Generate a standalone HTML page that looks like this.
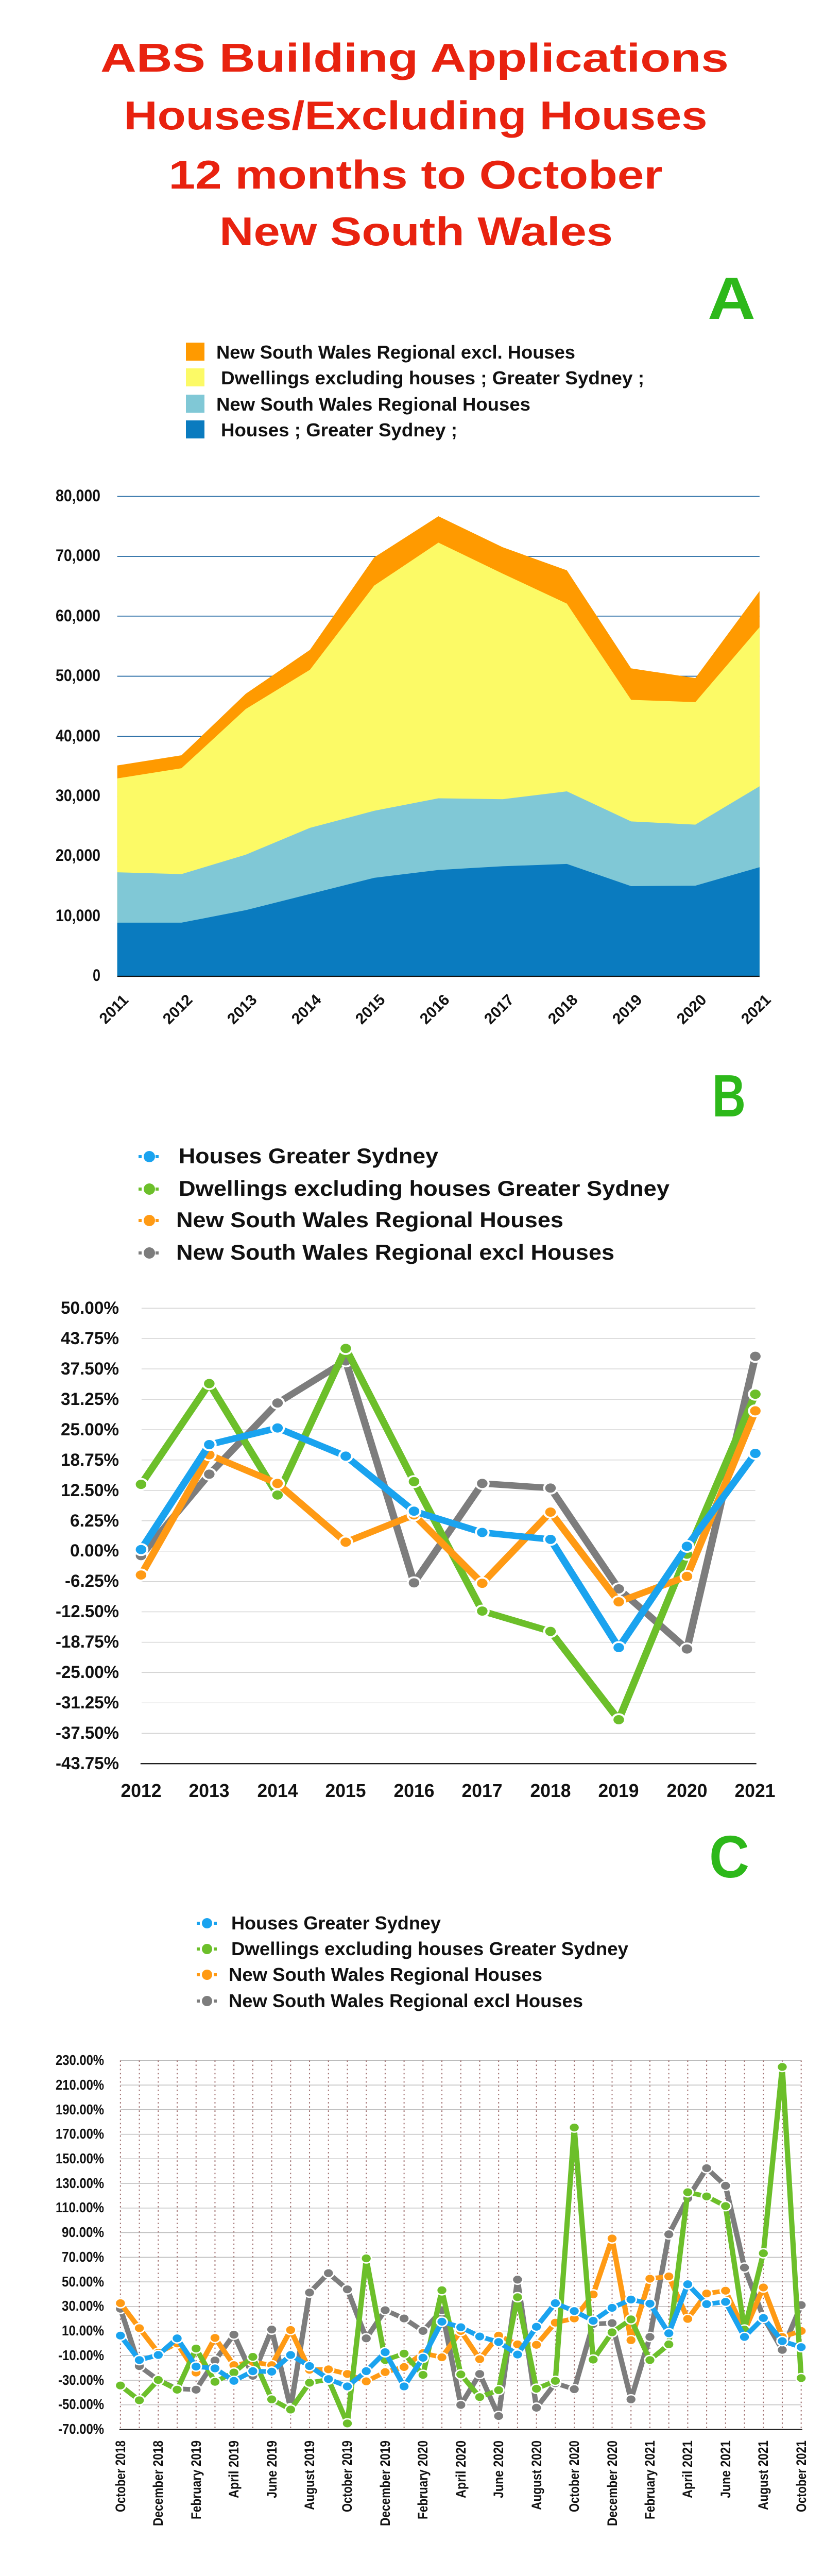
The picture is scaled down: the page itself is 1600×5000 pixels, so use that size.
<!DOCTYPE html>
<html><head><meta charset="utf-8"><style>
html,body{margin:0;padding:0;background:#fff;}
svg{display:block;}
text{font-family:"Liberation Sans",sans-serif;font-weight:bold;}
</style></head><body>
<svg width="1600" height="5000" viewBox="0 0 1600 5000" xmlns="http://www.w3.org/2000/svg">
<defs>
<marker id="mb" markerUnits="userSpaceOnUse" markerWidth="40" markerHeight="40" refX="20" refY="20"><circle cx="20" cy="20" r="12" fill="#1aa3ef" stroke="#fff" stroke-width="4"/></marker>
<marker id="mg" markerUnits="userSpaceOnUse" markerWidth="40" markerHeight="40" refX="20" refY="20"><circle cx="20" cy="20" r="12" fill="#6cbf2a" stroke="#fff" stroke-width="4"/></marker>
<marker id="mo" markerUnits="userSpaceOnUse" markerWidth="40" markerHeight="40" refX="20" refY="20"><circle cx="20" cy="20" r="12" fill="#ff9a14" stroke="#fff" stroke-width="4"/></marker>
<marker id="mk" markerUnits="userSpaceOnUse" markerWidth="40" markerHeight="40" refX="20" refY="20"><circle cx="20" cy="20" r="12" fill="#7d7d7d" stroke="#fff" stroke-width="4"/></marker>
<marker id="sb" markerUnits="userSpaceOnUse" markerWidth="30" markerHeight="30" refX="15" refY="15"><circle cx="15" cy="15" r="10" fill="#1aa3ef" stroke="#fff" stroke-width="3"/></marker>
<marker id="sg" markerUnits="userSpaceOnUse" markerWidth="30" markerHeight="30" refX="15" refY="15"><circle cx="15" cy="15" r="10" fill="#6cbf2a" stroke="#fff" stroke-width="3"/></marker>
<marker id="so" markerUnits="userSpaceOnUse" markerWidth="30" markerHeight="30" refX="15" refY="15"><circle cx="15" cy="15" r="10" fill="#ff9a14" stroke="#fff" stroke-width="3"/></marker>
<marker id="sk" markerUnits="userSpaceOnUse" markerWidth="30" markerHeight="30" refX="15" refY="15"><circle cx="15" cy="15" r="10" fill="#7d7d7d" stroke="#fff" stroke-width="3"/></marker>
</defs>

<!-- Title -->
<g fill="#e8220f" font-size="78" text-anchor="middle">
<text x="805" y="139" textLength="1220" lengthAdjust="spacingAndGlyphs">ABS Building Applications</text>
<text x="807" y="251" textLength="1133" lengthAdjust="spacingAndGlyphs">Houses/Excluding Houses</text>
<text x="807" y="366" textLength="959" lengthAdjust="spacingAndGlyphs">12 months to October</text>
<text x="808" y="476" textLength="764" lengthAdjust="spacingAndGlyphs">New South Wales</text>
</g>
<g fill="#2db81a" font-size="116">
<text x="1374" y="619" textLength="93" lengthAdjust="spacingAndGlyphs">A</text>
<text x="1383" y="2167" textLength="65" lengthAdjust="spacingAndGlyphs">B</text>
<text x="1377" y="3644" textLength="78" lengthAdjust="spacingAndGlyphs">C</text>
</g>

<!-- Chart A legend -->
<rect x="361" y="665" width="36" height="35" fill="#ff9a00"/>
<rect x="361" y="715" width="36" height="35" fill="#fcfa66"/>
<rect x="361" y="766" width="36" height="35" fill="#80c8d6"/>
<rect x="361" y="816" width="36" height="35" fill="#0a7bbf"/>
<g font-size="36" fill="#111">
<text x="420" y="696" textLength="697" lengthAdjust="spacingAndGlyphs">New South Wales Regional excl. Houses</text>
<text x="429" y="746" textLength="822" lengthAdjust="spacingAndGlyphs">Dwellings excluding houses ;  Greater Sydney ;</text>
<text x="420" y="797" textLength="610" lengthAdjust="spacingAndGlyphs">New South Wales Regional Houses</text>
<text x="429" y="847" textLength="459" lengthAdjust="spacingAndGlyphs">Houses ;  Greater Sydney ;</text>
</g>

<!-- Chart A plot -->
<svg x="0" y="600" width="1600" height="1400" viewBox="0 0 1560 1560" preserveAspectRatio="none">
<g stroke="#2a6ea6" stroke-width="2">
<line x1="222" x2="1438" y1="405" y2="405"/><line x1="222" x2="1438" y1="535" y2="535"/>
<line x1="222" x2="1438" y1="664" y2="664"/><line x1="222" x2="1438" y1="794" y2="794"/>
<line x1="222" x2="1438" y1="924" y2="924"/><line x1="222" x2="1438" y1="1054" y2="1054"/>
<line x1="222" x2="1438" y1="1184" y2="1184"/><line x1="222" x2="1438" y1="1313" y2="1313"/>
</g>
<polygon fill="#ff9a00" points="222,987 343.6,965 465.2,832 586.8,737 708.4,537 830,448 951.6,515 1073.2,565 1194.8,777 1316.4,798 1438,610 1438,1443 222,1443"/>
<polygon fill="#fcfa66" points="222,1015 343.6,993 465.2,865 586.8,780 708.4,598 830,505 951.6,572 1073.2,637 1194.8,845 1316.4,850 1438,688 1438,1443 222,1443"/>
<polygon fill="#80c8d6" points="222,1218 343.6,1222 465.2,1180 586.8,1122 708.4,1085 830,1058 951.6,1060 1073.2,1043 1194.8,1108 1316.4,1115 1438,1032 1438,1443 222,1443"/>
<polygon fill="#0a7bbf" points="222,1327 343.6,1327 465.2,1300 586.8,1265 708.4,1230 830,1213 951.6,1205 1073.2,1200 1194.8,1248 1316.4,1247 1438,1207 1438,1443 222,1443"/>
<line x1="222" x2="1438" y1="1443" y2="1443" stroke="#111" stroke-width="2.5"/>
</svg>
<g font-size="32" fill="#111">
<text x="108" y="973" textLength="87" lengthAdjust="spacingAndGlyphs">80,000</text>
<text x="108" y="1089" textLength="87" lengthAdjust="spacingAndGlyphs">70,000</text>
<text x="108" y="1206" textLength="87" lengthAdjust="spacingAndGlyphs">60,000</text>
<text x="108" y="1322" textLength="87" lengthAdjust="spacingAndGlyphs">50,000</text>
<text x="108" y="1439" textLength="87" lengthAdjust="spacingAndGlyphs">40,000</text>
<text x="108" y="1555" textLength="87" lengthAdjust="spacingAndGlyphs">30,000</text>
<text x="108" y="1671" textLength="87" lengthAdjust="spacingAndGlyphs">20,000</text>
<text x="108" y="1788" textLength="87" lengthAdjust="spacingAndGlyphs">10,000</text>
<text x="180" y="1904" textLength="15" lengthAdjust="spacingAndGlyphs">0</text>
</g>
<g font-size="30" fill="#111" text-anchor="middle">
<text transform="translate(228,1966) rotate(-45)">2011</text>
<text transform="translate(352,1966) rotate(-45)">2012</text>
<text transform="translate(477,1966) rotate(-45)">2013</text>
<text transform="translate(602,1966) rotate(-45)">2014</text>
<text transform="translate(726,1966) rotate(-45)">2015</text>
<text transform="translate(851,1966) rotate(-45)">2016</text>
<text transform="translate(976,1966) rotate(-45)">2017</text>
<text transform="translate(1100,1966) rotate(-45)">2018</text>
<text transform="translate(1225,1966) rotate(-45)">2019</text>
<text transform="translate(1350,1966) rotate(-45)">2020</text>
<text transform="translate(1475,1966) rotate(-45)">2021</text>
</g>

<!-- Chart B legend -->
<g stroke-width="6" stroke-dasharray="6 5">
<line x1="269" x2="310" y1="2245" y2="2245" stroke="#1aa3ef"/>
<line x1="269" x2="310" y1="2308" y2="2308" stroke="#6cbf2a"/>
<line x1="269" x2="310" y1="2369" y2="2369" stroke="#ff9a14"/>
<line x1="269" x2="310" y1="2432" y2="2432" stroke="#7d7d7d"/>
</g>
<circle cx="290" cy="2245" r="11" fill="#1aa3ef"/>
<circle cx="290" cy="2308" r="11" fill="#6cbf2a"/>
<circle cx="290" cy="2369" r="11" fill="#ff9a14"/>
<circle cx="290" cy="2432" r="11" fill="#7d7d7d"/>
<g font-size="42" fill="#111">
<text x="347" y="2258" textLength="504" lengthAdjust="spacingAndGlyphs">Houses Greater Sydney</text>
<text x="347" y="2321" textLength="953" lengthAdjust="spacingAndGlyphs">Dwellings excluding houses Greater Sydney</text>
<text x="342" y="2382" textLength="752" lengthAdjust="spacingAndGlyphs">New South Wales Regional Houses</text>
<text x="342" y="2445" textLength="851" lengthAdjust="spacingAndGlyphs">New South Wales Regional excl Houses</text>
</g>

<!-- Chart B plot -->
<svg x="0" y="2200" width="1600" height="1400" viewBox="0 0 1560 1560" preserveAspectRatio="none">
<g stroke="#cfcfcf" stroke-width="1.5">
<line x1="268" x2="1430" y1="378" y2="378"/><line x1="268" x2="1430" y1="443.7" y2="443.7"/>
<line x1="268" x2="1430" y1="509.3" y2="509.3"/><line x1="268" x2="1430" y1="575" y2="575"/>
<line x1="268" x2="1430" y1="640.7" y2="640.7"/><line x1="268" x2="1430" y1="706.3" y2="706.3"/>
<line x1="268" x2="1430" y1="772" y2="772"/><line x1="268" x2="1430" y1="837.7" y2="837.7"/>
<line x1="268" x2="1430" y1="903.4" y2="903.4"/><line x1="268" x2="1430" y1="969" y2="969"/>
<line x1="268" x2="1430" y1="1034.7" y2="1034.7"/><line x1="268" x2="1430" y1="1100.4" y2="1100.4"/>
<line x1="268" x2="1430" y1="1166" y2="1166"/><line x1="268" x2="1430" y1="1231.7" y2="1231.7"/>
<line x1="268" x2="1430" y1="1297.4" y2="1297.4"/>
</g>
<line x1="266" x2="1432" y1="1363" y2="1363" stroke="#111" stroke-width="2.5"/>
<g fill="none" stroke-width="14" stroke-linejoin="round">
<polyline stroke="#7d7d7d" marker-start="url(#mk)" marker-mid="url(#mk)" marker-end="url(#mk)" points="267,913 396.2,737 525.4,583 654.6,492 783.8,972 913,757 1042.2,767 1171.4,985 1300.6,1115 1430,482"/>
<polyline stroke="#6cbf2a" marker-start="url(#mg)" marker-mid="url(#mg)" marker-end="url(#mg)" points="267,759 396.2,541 525.4,782 654.6,465 783.8,753 913,1033 1042.2,1077 1171.4,1268 1300.6,910 1430,564"/>
<polyline stroke="#ff9a14" marker-start="url(#mo)" marker-mid="url(#mo)" marker-end="url(#mo)" points="267,955 396.2,695 525.4,757 654.6,884 783.8,825 913,973 1042.2,819 1171.4,1013 1300.6,958 1430,600"/>
<polyline stroke="#1aa3ef" marker-start="url(#mb)" marker-mid="url(#mb)" marker-end="url(#mb)" points="267,900 396.2,673 525.4,637 654.6,698 783.8,817 913,863 1042.2,878 1171.4,1112 1300.6,893 1430,692"/>
</g>
</svg>
<g font-size="34" fill="#111">
<text x="118" y="2550" textLength="113" lengthAdjust="spacingAndGlyphs">50.00%</text>
<text x="118" y="2609" textLength="113" lengthAdjust="spacingAndGlyphs">43.75%</text>
<text x="118" y="2668" textLength="113" lengthAdjust="spacingAndGlyphs">37.50%</text>
<text x="118" y="2727" textLength="113" lengthAdjust="spacingAndGlyphs">31.25%</text>
<text x="118" y="2786" textLength="113" lengthAdjust="spacingAndGlyphs">25.00%</text>
<text x="118" y="2845" textLength="113" lengthAdjust="spacingAndGlyphs">18.75%</text>
<text x="118" y="2904" textLength="113" lengthAdjust="spacingAndGlyphs">12.50%</text>
<text x="136" y="2963" textLength="95" lengthAdjust="spacingAndGlyphs">6.25%</text>
<text x="136" y="3021" textLength="95" lengthAdjust="spacingAndGlyphs">0.00%</text>
<text x="126" y="3080" textLength="105" lengthAdjust="spacingAndGlyphs">-6.25%</text>
<text x="108" y="3139" textLength="123" lengthAdjust="spacingAndGlyphs">-12.50%</text>
<text x="108" y="3198" textLength="123" lengthAdjust="spacingAndGlyphs">-18.75%</text>
<text x="108" y="3257" textLength="123" lengthAdjust="spacingAndGlyphs">-25.00%</text>
<text x="108" y="3316" textLength="123" lengthAdjust="spacingAndGlyphs">-31.25%</text>
<text x="108" y="3375" textLength="123" lengthAdjust="spacingAndGlyphs">-37.50%</text>
<text x="108" y="3434" textLength="123" lengthAdjust="spacingAndGlyphs">-43.75%</text>
</g>
<g font-size="36" fill="#111" text-anchor="middle">
<text x="274" y="3488" textLength="79" lengthAdjust="spacingAndGlyphs">2012</text>
<text x="406" y="3488" textLength="79" lengthAdjust="spacingAndGlyphs">2013</text>
<text x="539" y="3488" textLength="79" lengthAdjust="spacingAndGlyphs">2014</text>
<text x="671" y="3488" textLength="79" lengthAdjust="spacingAndGlyphs">2015</text>
<text x="804" y="3488" textLength="79" lengthAdjust="spacingAndGlyphs">2016</text>
<text x="936" y="3488" textLength="79" lengthAdjust="spacingAndGlyphs">2017</text>
<text x="1069" y="3488" textLength="79" lengthAdjust="spacingAndGlyphs">2018</text>
<text x="1201" y="3488" textLength="79" lengthAdjust="spacingAndGlyphs">2019</text>
<text x="1334" y="3488" textLength="79" lengthAdjust="spacingAndGlyphs">2020</text>
<text x="1466" y="3488" textLength="79" lengthAdjust="spacingAndGlyphs">2021</text>
</g>

<!-- Chart C legend -->
<g stroke-width="6" stroke-dasharray="6 5">
<line x1="382" x2="423" y1="3733" y2="3733" stroke="#1aa3ef"/>
<line x1="382" x2="423" y1="3783" y2="3783" stroke="#6cbf2a"/>
<line x1="382" x2="423" y1="3833" y2="3833" stroke="#ff9a14"/>
<line x1="382" x2="423" y1="3884" y2="3884" stroke="#7d7d7d"/>
</g>
<circle cx="402" cy="3733" r="10" fill="#1aa3ef"/>
<circle cx="402" cy="3783" r="10" fill="#6cbf2a"/>
<circle cx="402" cy="3833" r="10" fill="#ff9a14"/>
<circle cx="402" cy="3884" r="10" fill="#7d7d7d"/>
<g font-size="36" fill="#111">
<text x="449" y="3745" textLength="407" lengthAdjust="spacingAndGlyphs">Houses Greater Sydney</text>
<text x="449" y="3795" textLength="771" lengthAdjust="spacingAndGlyphs">Dwellings excluding houses Greater Sydney</text>
<text x="444" y="3845" textLength="609" lengthAdjust="spacingAndGlyphs">New South Wales Regional Houses</text>
<text x="444" y="3896" textLength="688" lengthAdjust="spacingAndGlyphs">New South Wales Regional excl Houses</text>
</g>

<!-- Chart C plot -->
<svg x="0" y="3600" width="1600" height="1400" viewBox="0 0 1560 1560" preserveAspectRatio="none">
<g stroke="#b8b8b8" stroke-width="1.5">
<line x1="228" x2="1517" y1="445" y2="445"/><line x1="228" x2="1517" y1="498.2" y2="498.2"/>
<line x1="228" x2="1517" y1="551.4" y2="551.4"/><line x1="228" x2="1517" y1="604.6" y2="604.6"/>
<line x1="228" x2="1517" y1="657.8" y2="657.8"/><line x1="228" x2="1517" y1="711" y2="711"/>
<line x1="228" x2="1517" y1="764.2" y2="764.2"/><line x1="228" x2="1517" y1="817.4" y2="817.4"/>
<line x1="228" x2="1517" y1="870.6" y2="870.6"/><line x1="228" x2="1517" y1="923.8" y2="923.8"/>
<line x1="228" x2="1517" y1="977" y2="977"/><line x1="228" x2="1517" y1="1030.2" y2="1030.2"/>
<line x1="228" x2="1517" y1="1083.4" y2="1083.4"/><line x1="228" x2="1517" y1="1136.6" y2="1136.6"/>
<line x1="228" x2="1517" y1="1189.8" y2="1189.8"/>
</g>
<path stroke="#a07070" stroke-width="2" stroke-dasharray="3 6" fill="none" d="M228 445V1243M263.8 445V1243M299.6 445V1243M335.4 445V1243M371.2 445V1243M407 445V1243M442.8 445V1243M478.6 445V1243M514.4 445V1243M550.2 445V1243M586 445V1243M621.8 445V1243M657.6 445V1243M693.4 445V1243M729.2 445V1243M765 445V1243M800.8 445V1243M836.6 445V1243M872.4 445V1243M908.2 445V1243M944 445V1243M979.8 445V1243M1015.6 445V1243M1051.4 445V1243M1087.2 445V1243M1123 445V1243M1158.8 445V1243M1194.6 445V1243M1230.4 445V1243M1266.2 445V1243M1302 445V1243M1337.8 445V1243M1373.6 445V1243M1409.4 445V1243M1445.2 445V1243M1481 445V1243M1516.8 445V1243"/>
<line x1="226" x2="1519" y1="1243" y2="1243" stroke="#111" stroke-width="2"/>
<g fill="none" stroke-width="10" stroke-linejoin="round">
<polyline stroke="#7d7d7d" marker-start="url(#sk)" marker-mid="url(#sk)" marker-end="url(#sk)" points="228,982 263.8,1106 299.6,1136 335.4,1155 371.2,1157 407,1094 442.8,1038 478.6,1127 514.4,1027 550.2,1197 586,947 621.8,905 657.6,940 693.4,1046 729.2,985 765,1003 800.8,1030 836.6,985 872.4,1190 908.2,1123 944,1214 979.8,919 1015.6,1196 1051.4,1143 1087.2,1156 1123,1015 1158.8,1013 1194.6,1178 1230.4,1043 1266.2,821 1302,743 1337.8,678 1373.6,716 1409.4,893 1445.2,1000 1481,1071 1516.8,974"/>
<polyline stroke="#ff9a14" marker-start="url(#so)" marker-mid="url(#so)" marker-end="url(#so)" points="228,970 263.8,1024 299.6,1077 335.4,1057 371.2,1120 407,1045 442.8,1104 478.6,1097 514.4,1104 550.2,1028 586,1114 621.8,1113 657.6,1123 693.4,1139 729.2,1119 765,1108 800.8,1078 836.6,1087 872.4,1030 908.2,1091 944,1040 979.8,1059 1015.6,1060 1051.4,1012 1087.2,1003 1123,951 1158.8,830 1194.6,1050 1230.4,917 1266.2,912 1302,1004 1337.8,949 1373.6,943 1409.4,1030 1445.2,936 1481,1043 1516.8,1030"/>
<polyline stroke="#6cbf2a" marker-start="url(#sg)" marker-mid="url(#sg)" marker-end="url(#sg)" points="228,1148 263.8,1180 299.6,1136 335.4,1157 371.2,1068 407,1140 442.8,1120 478.6,1086 514.4,1178 550.2,1200 586,1142 621.8,1135 657.6,1230 693.4,873 729.2,1093 765,1079 800.8,1125 836.6,942 872.4,1124 908.2,1173 944,1158 979.8,957 1015.6,1155 1051.4,1138 1087.2,590 1123,1092 1158.8,1033 1194.6,1005 1230.4,1093 1266.2,1059 1302,730 1337.8,739 1373.6,760 1409.4,1027 1445.2,862 1481,459 1516.8,1132"/>
<polyline stroke="#1aa3ef" marker-start="url(#sb)" marker-mid="url(#sb)" marker-end="url(#sb)" points="228,1040 263.8,1093 299.6,1082 335.4,1046 371.2,1107 407,1111 442.8,1138 478.6,1117 514.4,1118 550.2,1082 586,1106 621.8,1134 657.6,1150 693.4,1117 729.2,1076 765,1150 800.8,1088 836.6,1010 872.4,1022 908.2,1042 944,1054 979.8,1081 1015.6,1021 1051.4,970 1087.2,987 1123,1008 1158.8,980 1194.6,962 1230.4,971 1266.2,1035 1302,929 1337.8,972 1373.6,967 1409.4,1043 1445.2,1002 1481,1052 1516.8,1065"/>
</g>
</svg>
<g font-size="28" fill="#111">
<text x="108" y="4008" textLength="94" lengthAdjust="spacingAndGlyphs">230.00%</text>
<text x="108" y="4056" textLength="94" lengthAdjust="spacingAndGlyphs">210.00%</text>
<text x="108" y="4104" textLength="94" lengthAdjust="spacingAndGlyphs">190.00%</text>
<text x="108" y="4151" textLength="94" lengthAdjust="spacingAndGlyphs">170.00%</text>
<text x="108" y="4199" textLength="94" lengthAdjust="spacingAndGlyphs">150.00%</text>
<text x="108" y="4247" textLength="94" lengthAdjust="spacingAndGlyphs">130.00%</text>
<text x="108" y="4294" textLength="94" lengthAdjust="spacingAndGlyphs">110.00%</text>
<text x="120" y="4342" textLength="82" lengthAdjust="spacingAndGlyphs">90.00%</text>
<text x="120" y="4390" textLength="82" lengthAdjust="spacingAndGlyphs">70.00%</text>
<text x="120" y="4438" textLength="82" lengthAdjust="spacingAndGlyphs">50.00%</text>
<text x="120" y="4485" textLength="82" lengthAdjust="spacingAndGlyphs">30.00%</text>
<text x="120" y="4533" textLength="82" lengthAdjust="spacingAndGlyphs">10.00%</text>
<text x="113" y="4581" textLength="89" lengthAdjust="spacingAndGlyphs">-10.00%</text>
<text x="113" y="4629" textLength="89" lengthAdjust="spacingAndGlyphs">-30.00%</text>
<text x="113" y="4676" textLength="89" lengthAdjust="spacingAndGlyphs">-50.00%</text>
<text x="113" y="4724" textLength="89" lengthAdjust="spacingAndGlyphs">-70.00%</text>
</g>
<g font-size="27" fill="#111" text-anchor="end">
<text transform="translate(243,4737) rotate(-90)" textLength="139" lengthAdjust="spacingAndGlyphs">October 2018</text>
<text transform="translate(316,4737) rotate(-90)" textLength="166" lengthAdjust="spacingAndGlyphs">December 2018</text>
<text transform="translate(390,4737) rotate(-90)" textLength="153" lengthAdjust="spacingAndGlyphs">February 2019</text>
<text transform="translate(463,4737) rotate(-90)" textLength="112" lengthAdjust="spacingAndGlyphs">April 2019</text>
<text transform="translate(537,4737) rotate(-90)" textLength="112" lengthAdjust="spacingAndGlyphs">June 2019</text>
<text transform="translate(610,4737) rotate(-90)" textLength="135" lengthAdjust="spacingAndGlyphs">August 2019</text>
<text transform="translate(683,4737) rotate(-90)" textLength="139" lengthAdjust="spacingAndGlyphs">October 2019</text>
<text transform="translate(757,4737) rotate(-90)" textLength="166" lengthAdjust="spacingAndGlyphs">December 2019</text>
<text transform="translate(830,4737) rotate(-90)" textLength="153" lengthAdjust="spacingAndGlyphs">February 2020</text>
<text transform="translate(904,4737) rotate(-90)" textLength="112" lengthAdjust="spacingAndGlyphs">April 2020</text>
<text transform="translate(977,4737) rotate(-90)" textLength="112" lengthAdjust="spacingAndGlyphs">June 2020</text>
<text transform="translate(1051,4737) rotate(-90)" textLength="135" lengthAdjust="spacingAndGlyphs">August 2020</text>
<text transform="translate(1124,4737) rotate(-90)" textLength="139" lengthAdjust="spacingAndGlyphs">October 2020</text>
<text transform="translate(1198,4737) rotate(-90)" textLength="166" lengthAdjust="spacingAndGlyphs">December 2020</text>
<text transform="translate(1271,4737) rotate(-90)" textLength="153" lengthAdjust="spacingAndGlyphs">February 2021</text>
<text transform="translate(1344,4737) rotate(-90)" textLength="112" lengthAdjust="spacingAndGlyphs">April 2021</text>
<text transform="translate(1418,4737) rotate(-90)" textLength="112" lengthAdjust="spacingAndGlyphs">June 2021</text>
<text transform="translate(1491,4737) rotate(-90)" textLength="135" lengthAdjust="spacingAndGlyphs">August 2021</text>
<text transform="translate(1565,4737) rotate(-90)" textLength="139" lengthAdjust="spacingAndGlyphs">October 2021</text>
</g>
</svg>
</body></html>
